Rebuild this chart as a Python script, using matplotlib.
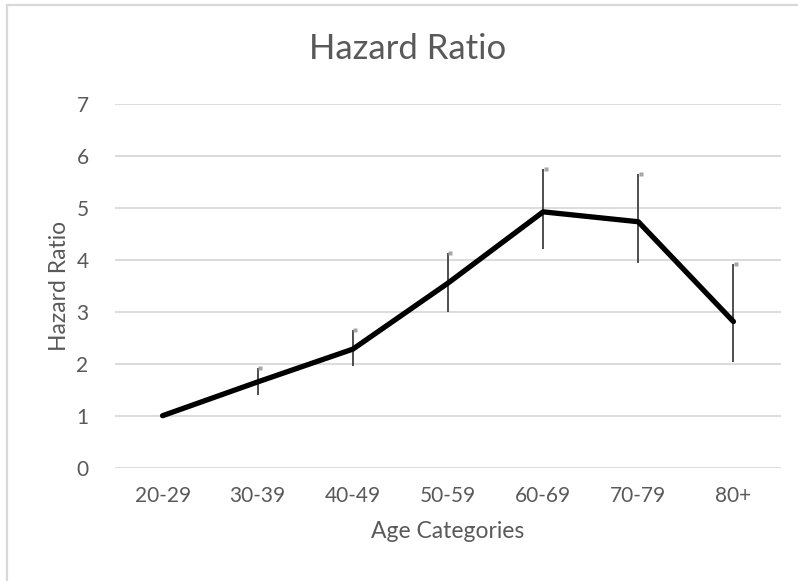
import matplotlib
matplotlib.use("Agg")
import matplotlib.pyplot as plt
from matplotlib.lines import Line2D

plt.rcParams['font.family'] = ['Lato', 'DejaVu Sans']

# data
categories = ['20-29', '30-39', '40-49', '50-59', '60-69', '70-79', '80+']
hazard_ratio = [1.00, 1.65, 2.28, 3.55, 4.92, 4.73, 2.81]
ci_upper = [1.00, 1.91, 2.65, 4.13, 5.74, 5.65, 3.92]
ci_lower = [1.00, 1.40, 1.96, 3.00, 4.21, 3.94, 2.04]

text_color = '#595959'
grid_color = '#d9d9d9'

fig = plt.figure(figsize=(7.98, 5.81), dpi=100)
ax = fig.add_axes([115 / 798, 1 - 467.7 / 581, (781 - 115) / 798, (467.7 - 103.7) / 581])

x = list(range(len(categories)))

# error bars (only the ones that have a range)
for xi, lo, hi in zip(x, ci_lower, ci_upper):
    if hi > lo:
        ax.vlines(xi, lo, hi, color='#404040', lw=1.3, zorder=3)
        # small grey cap nub at the top
        ax.plot(xi + 0.025, hi, marker='s', ms=3, color='#a6a6a6', mec='none', zorder=3)

ax.plot(x, hazard_ratio, color='black', lw=3.8, solid_capstyle='round',
        solid_joinstyle='round', zorder=4)

ax.set_xlim(-0.5, len(categories) - 0.5)
ax.set_ylim(0, 7)
ax.set_yticks(range(0, 8))
ax.set_xticks(x)
ax.set_xticklabels(categories)
ax.yaxis.grid(True, color=grid_color, lw=1.3)
ax.set_axisbelow(True)
for s in ax.spines.values():
    s.set_visible(False)
ax.tick_params(length=0, labelsize=15, labelcolor=text_color)
ax.tick_params(axis='x', pad=13)
ax.tick_params(axis='y', pad=19)

ax.set_xlabel('Age Categories', fontsize=16.5, color=text_color, labelpad=11)
ax.set_ylabel('Hazard Ratio', fontsize=16.5, color=text_color, labelpad=5)

fig.text(408 / 798, 1 - 49 / 581, 'Hazard Ratio', fontsize=25, color=text_color,
         ha='center', va='center')

# chart area border (left and top edges visible)
fig.add_artist(Line2D([7 / 798, 7 / 798], [0, 1 - 5 / 581], transform=fig.transFigure,
                      color=grid_color, lw=1.6))
fig.add_artist(Line2D([7 / 798, 1], [1 - 5 / 581, 1 - 5 / 581], transform=fig.transFigure,
                      color=grid_color, lw=1.6))

fig.savefig('out.png', dpi=100)
